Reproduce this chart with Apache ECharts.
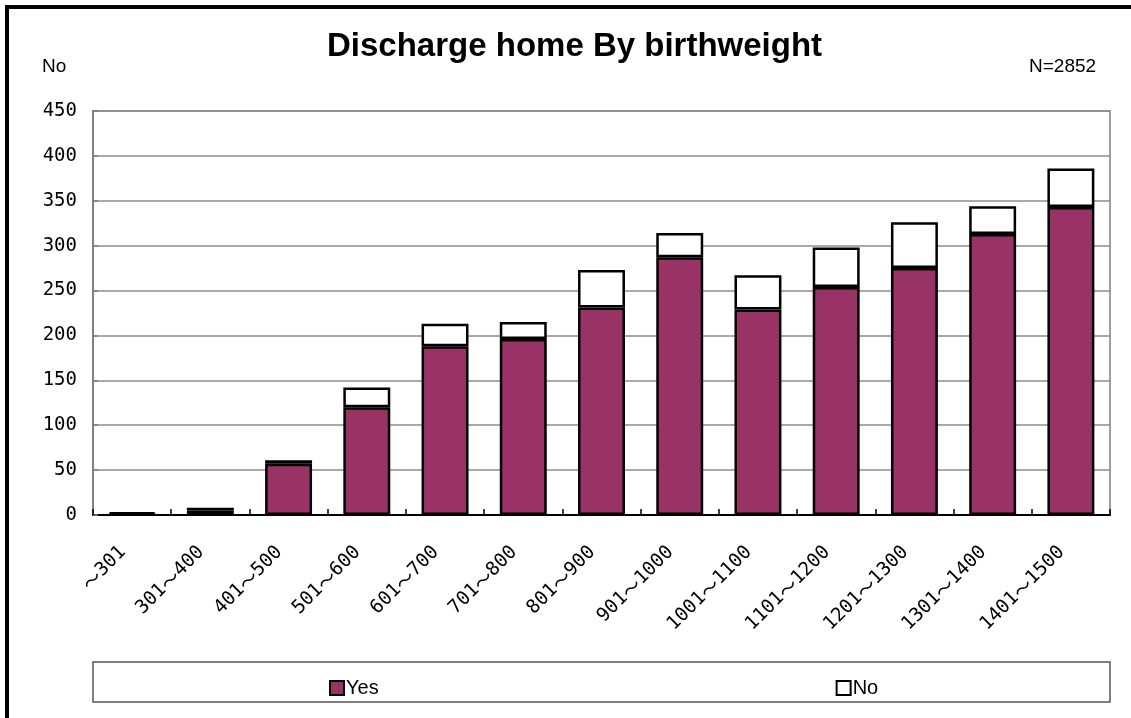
<!DOCTYPE html>
<html>
<head>
<meta charset="utf-8">
<script src="https://cdn.jsdelivr.net/npm/echarts@6/dist/echarts.min.js"></script>
<style>
  html, body { margin: 0; padding: 0; background: #fff; }
  #chart { width: 1131px; height: 718px; }
</style>
</head>
<body>
<div id="chart"></div>
<script>
// 出生体重別 自宅退院
const categories = ['〜301', '301〜400', '401〜500', '501〜600', '601〜700', '701〜800', '801〜900',
  '901〜1000', '1001〜1100', '1101〜1200', '1201〜1300', '1301〜1400', '1401〜1500']
const yesData = [1, 5, 57, 120, 188, 196, 231, 287, 229, 254, 275, 313, 343]
const noData = [2, 3, 4, 22, 25, 19, 42, 27, 38, 44, 51, 31, 43]
const seriesNames = ['Yes', 'No']
const yMax = 450
const yStep = 50

const chart = echarts.init(document.getElementById('chart'))

const barBorder = {
  borderColor: '#000',
  borderWidth: 2.5
}

// 〜 だけ CJK フォントで描く
const fmtLabel = (v) => v.split('〜').map((s) => (s ? '{d|' + s + '}' : '')).join('{t|〜}')

const option = {
  animation: false,
  backgroundColor: '#fff',
  title: [
    {
      text: 'Discharge home By birthweight',
      left: 322,
      top: 25,
      textStyle: { fontFamily: 'Liberation Sans', fontSize: 33, fontWeight: 'bold', color: '#000' }
    },
    {
      text: 'No',
      left: 37,
      top: 52,
      textStyle: { fontFamily: 'Liberation Sans', fontSize: 19, fontWeight: 'normal', color: '#000' }
    },
    {
      text: 'N=2852',
      left: 1024,
      top: 52,
      textStyle: { fontFamily: 'Liberation Sans', fontSize: 19, fontWeight: 'normal', color: '#000' }
    }
  ],
  graphic: [
    // 外枠（左・上）
    {
      type: 'polyline',
      shape: { points: [[7, 718], [7, 7], [1131, 7]] },
      style: { stroke: '#000', lineWidth: 4, fill: null }
    },
    // 凡例の枠
    {
      type: 'rect',
      shape: { x: 93, y: 662, width: 1017, height: 40 },
      style: { stroke: '#555', lineWidth: 1.5, fill: null }
    }
  ],
  legend: {
    data: seriesNames,
    left: 324,
    top: 673,
    icon: 'rect',
    itemWidth: 14,
    itemHeight: 14,
    itemGap: 457,
    textStyle: { fontFamily: 'Liberation Sans Narrow, Liberation Sans', fontSize: 20, color: '#000', padding: [0, 0, 0, -3] }
  },
  grid: {
    left: 93,
    right: 21,
    top: 111,
    bottom: 203,
    show: true,
    borderColor: '#808080',
    borderWidth: 1.5
  },
  xAxis: {
    type: 'category',
    data: categories,
    axisLine: { show: true, lineStyle: { color: '#000', width: 2 } },
    axisTick: { show: true, inside: true, length: 6, lineStyle: { color: '#000', width: 1.5 } },
    axisLabel: {
      rotate: 45,
      margin: 25,
      interval: 0,
      padding: [0, 13, 0, 0],
      formatter: fmtLabel,
      rich: {
        d: { fontFamily: 'DejaVu Sans Mono', fontSize: 19, color: '#000' },
        t: { fontFamily: 'Noto Sans CJK JP', fontSize: 19, color: '#000' }
      }
    }
  },
  yAxis: {
    type: 'value',
    min: 0,
    max: yMax,
    interval: yStep,
    axisLine: { show: true, lineStyle: { color: '#808080', width: 2 } },
    axisTick: { show: true, inside: true, length: 5, lineStyle: { color: '#808080', width: 1.5 } },
    axisLabel: {
      margin: 16,
      fontFamily: 'DejaVu Sans Mono',
      fontSize: 19,
      color: '#000'
    },
    splitLine: { show: true, lineStyle: { color: '#8c8c8c', width: 1.5 } }
  },
  series: [
    {
      name: 'Yes',
      type: 'bar',
      stack: 'total',
      barWidth: '60%',
      data: yesData,
      itemStyle: { color: '#993366', ...barBorder }
    },
    {
      name: 'No',
      type: 'bar',
      stack: 'total',
      barWidth: '60%',
      data: noData,
      itemStyle: { color: '#ffffff', ...barBorder }
    }
  ]
}

chart.setOption(option)
</script>
</body>
</html>
